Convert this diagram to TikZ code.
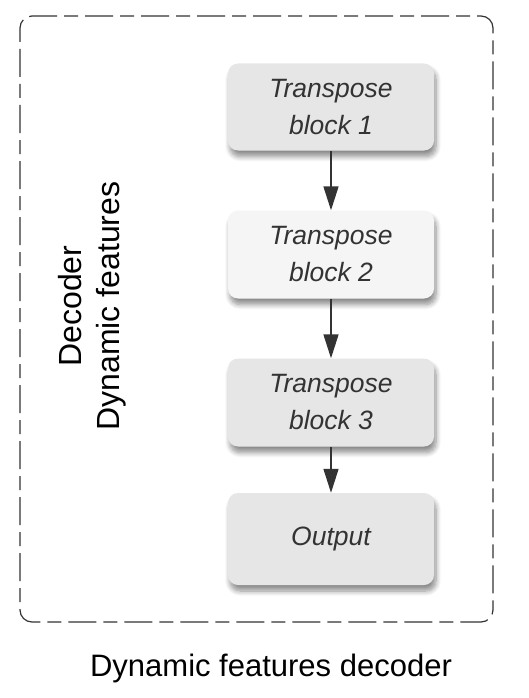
\documentclass[tikz,border=0pt]{standalone}
\usepackage{fontspec}
\setmainfont{Liberation Sans}
\usetikzlibrary{arrows.meta,positioning,shadows.blur}
\definecolor{blockgray}{HTML}{E6E6E6}
\definecolor{blocklight}{HTML}{F5F5F5}
\definecolor{inkgray}{HTML}{333333}

\begin{document}
\begin{tikzpicture}[x=1pt,y=-1pt,>={Triangle[length=24pt,width=15pt]},
    block/.style={rounded corners=10pt,fill=blockgray,minimum width=206pt,
      align=center,text=inkgray,font=\fontsize{26.5}{37}\selectfont\itshape,
      blur shadow={shadow xshift=2pt,shadow yshift=-6pt,shadow blur steps=8,
        shadow blur radius=5pt,shadow opacity=45}},
    flow/.style={->,draw=inkgray,line width=1.5pt}]
        \useasboundingbox (0,0) rectangle (528,698);
        \draw[inkgray,line width=1.2pt,rounded corners=12pt,
          dash pattern=on 14pt off 7pt on 28pt off 7pt] (20,16) rectangle (493,622);
        \node[block,minimum height=87pt] (tb1) at (331,107) {Transpose\\block 1};
        \node[block,minimum height=88pt,fill=blocklight] (tb2) at (331,254.5) {Transpose\\block 2};
        \node[block,minimum height=88pt] (tb3) at (331,402.5) {Transpose\\block 3};
        \node[block,minimum height=92pt] (out) at (331,539) {Output};
        \draw[flow] (tb1) -- (tb2);
        \draw[flow] (tb2) -- (tb3);
        \draw[flow] (tb3) -- (out);
        \node[rotate=90,align=center,font=\fontsize{32}{38}\selectfont] (side) at (92,306) {Decoder\\Dynamic features};
        \node[font=\fontsize{31}{38}\selectfont] (caption) at (271,668) {Dynamic features decoder};
      \end{tikzpicture}
\end{document}
